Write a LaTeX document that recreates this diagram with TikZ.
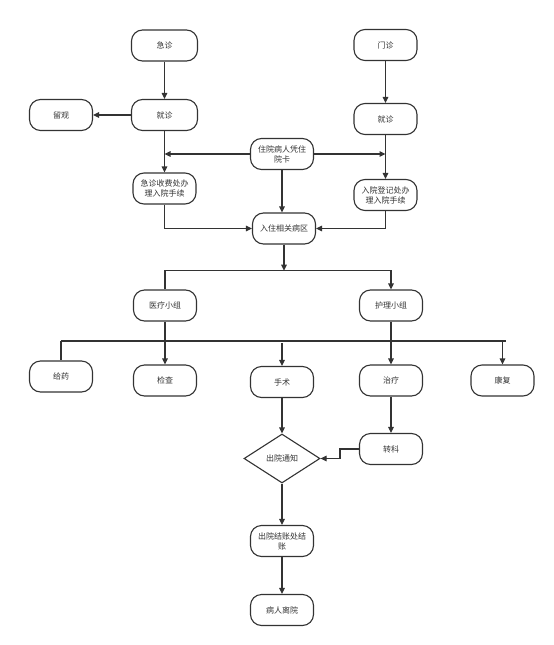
\documentclass[tikz,border=0pt]{standalone}
\usepackage{fontspec}
\newfontfamily\cjk{Noto Sans CJK SC}
\usetikzlibrary{arrows.meta,shapes.geometric}
\definecolor{linec}{HTML}{333333}
\definecolor{textc}{HTML}{333333}
\begin{document}
\begin{tikzpicture}[x=1pt,y=1pt,
  box/.style={draw=linec, line width=1.1pt, rounded corners=11pt, minimum width=63pt, minimum height=31pt, fill=white, font=\cjk\fontsize{8}{10}\selectfont, text=textc, align=center, inner sep=2pt},
  dia/.style={draw=linec, line width=1.1pt, diamond, aspect=1.55, minimum width=76pt, minimum height=49pt, inner sep=0pt, fill=white, font=\cjk\fontsize{8}{10}\selectfont, text=textc},
  ln/.style={draw=linec, line width=1.1pt},
  arr/.style={ln, -{Triangle[length=6pt,width=5.5pt]}}]
\useasboundingbox (0,0) rectangle (554,-645);
% nodes
\node[box, minimum width=66pt] (jizhen) at (164.5,-45.5) {急诊};
\node[box] (menzhen) at (385.5,-45) {门诊};
\node[box, minimum width=66pt] (jzL) at (164.5,-115) {就诊};
\node[box] (liuguan) at (61,-115) {留观};
\node[box] (jzR) at (385.5,-119) {就诊};
\node[box] (zyk) at (282,-154) {住院病人凭住\\院卡};
\node[box] (jzsf) at (164.5,-188.5) {急诊收费处办\\理入院手续};
\node[box] (rydj) at (385.5,-195) {入院登记处办\\理入院手续};
\node[box] (ruzhu) at (284,-228.5) {入住相关病区};
\node[box] (yiliao) at (165,-305.5) {医疗小组};
\node[box] (huli) at (391,-305.5) {护理小组};
\node[box] (geiyao) at (61,-376.5) {给药};
\node[box] (jiancha) at (165,-380.5) {检查};
\node[box] (shoushu) at (282,-382) {手术};
\node[box] (zhiliao) at (391,-380.5) {治疗};
\node[box] (kangfu) at (502.5,-380.5) {康复};
\node[box] (zhuanke) at (391,-449) {转科};
\node[dia] (tongzhi) at (282,-458.5) {出院通知};
\node[box] (jiezhang) at (282,-541) {出院结账处结\\账};
\node[box] (likai) at (282,-610) {病人离院};
% coordinates
\coordinate (bus) at (284,-270.7);
\coordinate (hl) at (61,-341);
\coordinate (hr) at (506,-341);
\coordinate (ss) at (282,-343);
\coordinate (zkbend) at (340,-449);
% connectors
\draw[arr] (jizhen) -- (jzL);
\draw[arr] (jzL) -- (liuguan);
\draw[arr] (jzL) -- (jzsf);
\draw[arr] (menzhen) -- (jzR);
\draw[arr] (jzR) -- (rydj);
\draw[arr] (zyk.west) -- (jzL.south |- zyk.west);
\draw[arr] (zyk.east) -- (jzR.south |- zyk.east);
\draw[arr] (zyk.south) -- (zyk.south |- ruzhu.north);
\draw[arr] (jzsf.south) |- (ruzhu.west);
\draw[arr] (rydj.south) |- (ruzhu.east);
\draw[arr] (ruzhu.south) -- (bus);
\draw[arr] (yiliao.north) |- (huli.north |- bus) -- (huli.north);
\draw[ln] (hl) -- (hr);
\draw[ln] (hl) -- (geiyao.north);
\draw[arr] (yiliao) -- (jiancha);
\draw[arr] (ss) -- (shoushu);
\draw[arr] (huli) -- (zhiliao);
\draw[arr] (kangfu.north |- hr) -- (kangfu.north);
\draw[arr] (shoushu) -- (tongzhi);
\draw[arr] (zhiliao) -- (zhuanke);
\draw[arr] (zhuanke.west) -- (zkbend) |- (tongzhi.east);
\draw[arr] (tongzhi) -- (jiezhang);
\draw[arr] (jiezhang) -- (likai);
\end{tikzpicture}
\end{document}
